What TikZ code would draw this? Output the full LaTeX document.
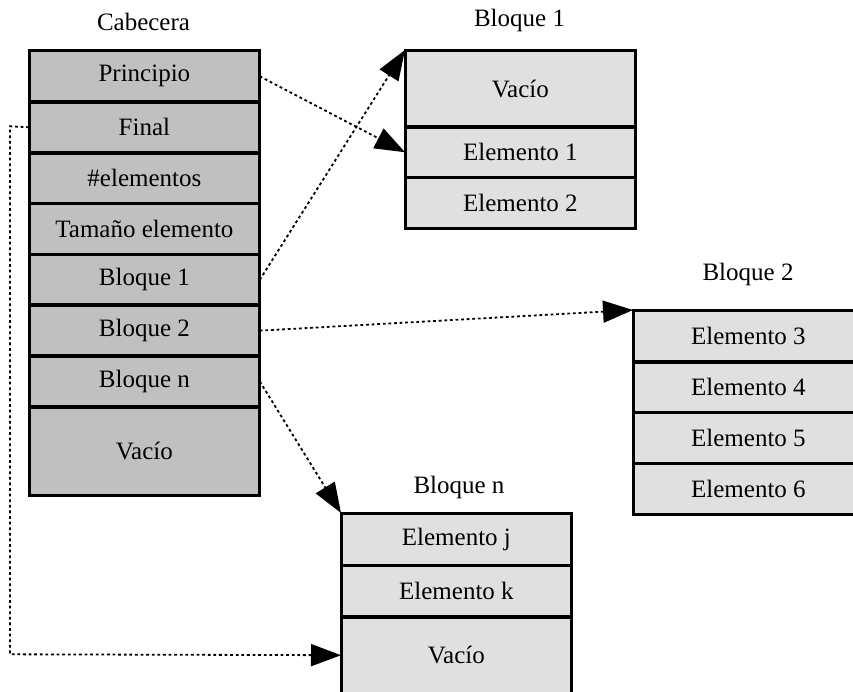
\documentclass[tikz,border=0pt]{standalone}
\usepackage{fontspec}
\setmainfont{Liberation Serif}
\usetikzlibrary{arrows.meta}
\definecolor{cabfill}{HTML}{C0C0C0}
\definecolor{blkfill}{HTML}{E0E0E0}
\tikzset{
  cell/.style={draw=black, line width=1.8pt, rectangle, minimum width=229pt, inner sep=0pt, anchor=north west, font=\fontsize{25}{29}\selectfont},
  cab/.style={cell, fill=cabfill},
  blk/.style={cell, fill=blkfill},
  ttl/.style={font=\fontsize{25}{29}\selectfont, inner sep=0pt},
  border/.style={draw=black, line width=1.8pt},
  ptr/.style={line width=1.8pt, dash pattern=on 2.8pt off 2.8pt, -{Triangle[length=30pt,width=22pt]}}
}
\begin{document}
\begin{tikzpicture}[x=1pt,y=-1pt]
\useasboundingbox (0,0) rectangle (853,691);
\clip (0,0) rectangle (853,691);
% Cabecera
\node[ttl] (tcab) at (143.5,22) {Cabecera};
\node[cab, minimum height=50.9pt] (princ) at (29,50) {Principio};
\node[cab, minimum height=50.9pt] (final) at (29,100.9) {Final};
\node[cab, minimum height=50.9pt] (nelem) at (29,151.7) {\#elementos};
\node[cab, minimum height=50.9pt] (tam) at (29,202.6) {Tamaño elemento};
\node[cab, minimum height=50.9pt] (cb1) at (29,253.4) {Bloque 1};
\node[cab, minimum height=50.9pt] (cb2) at (29,304.3) {Bloque 2};
\node[cab, minimum height=50.9pt] (cbn) at (29,355.1) {Bloque n};
\node[cab, minimum height=88pt] (cvac) at (29,406) {Vacío};
% Bloque 1
\node[ttl] (tb1) at (519.5,20) {Bloque 1};
\node[blk, minimum height=76pt] (b1v) at (405,50) {Vacío};
\node[blk, minimum height=50.7pt] (b1e1) at (405,126) {Elemento 1};
\node[blk, minimum height=50.7pt] (b1e2) at (405,176.7) {Elemento 2};
% Bloque 2
\node[ttl] (tb2) at (748,274) {Bloque 2};
\node[blk, minimum height=50.8pt] (b2e3) at (633,310) {Elemento 3};
\node[blk, minimum height=50.8pt] (b2e4) at (633,360.8) {Elemento 4};
\node[blk, minimum height=50.8pt] (b2e5) at (633,411.6) {Elemento 5};
\node[blk, minimum height=50.8pt] (b2e6) at (633,462.4) {Elemento 6};
% Bloque n
\node[ttl] (tbn) at (459,487) {Bloque n};
\node[blk, minimum height=51.4pt] (bnj) at (341,513) {Elemento j};
\node[blk, minimum height=51.4pt] (bnk) at (341,564.4) {Elemento k};
\node[blk, minimum height=77pt] (bnv) at (341,615.8) {Vacío};
% redraw borders so shared edges keep full width
\foreach \n in {princ,final,nelem,tam,cb1,cb2,cbn,cvac,b1v,b1e1,b1e2,b2e3,b2e4,b2e5,b2e6,bnj,bnk,bnv}
  \draw[border] (\n.north west) rectangle (\n.south east);
% connectors
\draw[ptr] (princ.east) -- (b1e1.west);
\draw[ptr] (cb1.east) -- (b1v.north west);
\draw[ptr] (cb2.east) -- (b2e3.north west);
\draw[ptr] (cbn.east) -- (bnj.north west);
\coordinate (f1) at (10,126.3);
\coordinate (f2) at (10,654.3);
\draw[ptr] (final.west) -- (f1) -- (f2) -- (bnv.west);
\end{tikzpicture}
\end{document}
